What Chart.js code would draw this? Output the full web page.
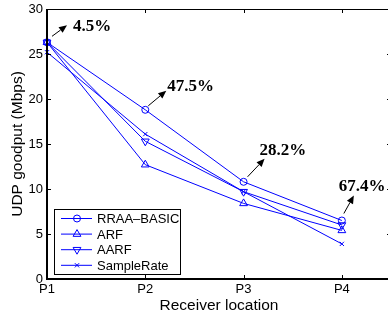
<!DOCTYPE html>
<html>
<head>
<meta charset="utf-8">
<script src="https://cdn.jsdelivr.net/npm/chart.js@4.4.0/dist/chart.umd.min.js"></script>
<style>
  html, body { margin: 0; padding: 0; background: #fff; overflow: hidden; }
  #wrap { width: 388px; height: 320px; overflow: hidden; }
</style>
</head>
<body>
<div id="wrap"><canvas id="goodputChart" width="393" height="320"></canvas></div>
<script>
// receiver positions and measured goodput (Mbps)
const locations = ['P1', 'P2', 'P3', 'P4'];
const rraaBasic = [26.3, 18.8, 10.8, 6.5];
const arf = [26.3, 12.7, 8.4, 5.4];
const aarf = [26.3, 15.3, 9.7, 6.0];
const sampleRate = [25.2, 16.1, 9.7, 3.9];
const gains = ['4.5%', '47.5%', '28.2%', '67.4%'];
const yTicks = [0, 5, 10, 15, 20, 25, 30];

// arrow tail, arrow tip and text anchor, relative to the RRAA point
const gainOffsets = [
  { tail: [5, -6], tip: [20, -17], text: [26, -16] },
  { tail: [3, -4], tip: [21, -19], text: [22, -23] },
  { tail: [4, -5], tip: [21, -23], text: [16, -31] },
  { tail: [2, -7], tip: [12, -25], text: [-3, -34] }
];

const SANS = '"Liberation Sans", Arial, sans-serif';
const BLUE = '#0000ff';

const toPoints = arr => arr.map((v, i) => ({ x: i + 1, y: v }));

function series(label, values, style, radius, rotation) {
  return {
    label,
    data: toPoints(values),
    borderColor: BLUE,
    backgroundColor: 'rgba(0,0,0,0)',
    borderWidth: 1,
    pointStyle: style,
    pointRadius: radius,
    pointRotation: rotation || 0,
    pointBorderColor: BLUE,
    pointBackgroundColor: 'rgba(0,0,0,0)',
    pointBorderWidth: 1,
    tension: 0,
    clip: false
  };
}

// matlab-style box with inward ticks (right edge falls outside the window)
const boxPlugin = {
  id: 'box',
  afterDraw(chart) {
    const { ctx, chartArea: a, scales } = chart;
    ctx.save();
    ctx.strokeStyle = '#000';
    ctx.lineWidth = 1;
    ctx.beginPath();
    yTicks.forEach(v => {
      const y = Math.round(scales.y.getPixelForValue(v)) + 0.5;
      ctx.moveTo(a.left, y); ctx.lineTo(a.left + 4, y);
      ctx.moveTo(a.right, y); ctx.lineTo(a.right - 4, y);
    });
    locations.forEach((_, i) => {
      const x = Math.round(scales.x.getPixelForValue(i + 1)) + 0.5;
      ctx.moveTo(x, a.bottom); ctx.lineTo(x, a.bottom - 4);
      ctx.moveTo(x, a.top); ctx.lineTo(x, a.top + 4);
    });
    ctx.stroke();
    ctx.beginPath();
    ctx.moveTo(a.left, a.top + 0.5); ctx.lineTo(a.right, a.top + 0.5);
    ctx.stroke();
    ctx.lineWidth = 2;
    ctx.beginPath();
    ctx.moveTo(a.left, a.top); ctx.lineTo(a.left, a.bottom);
    ctx.lineTo(a.right, a.bottom);
    ctx.stroke();
    ctx.restore();
  }
};

// legend box in the lower left corner
const legendPlugin = {
  id: 'boxLegend',
  afterDatasetsDraw(chart) {
    const ctx = chart.ctx;
    const a = chart.chartArea;
    const x0 = a.left + 7, y0 = a.bottom - 70, w = 126, h = 65;
    ctx.save();
    ctx.fillStyle = '#fff';
    ctx.fillRect(x0, y0, w, h);
    ctx.strokeStyle = '#000';
    ctx.lineWidth = 1;
    ctx.strokeRect(x0 + 0.5, y0 + 0.5, w, h);
    ctx.font = '13px ' + SANS;
    ctx.textBaseline = 'middle';
    chart.data.datasets.forEach((ds, i) => {
      const y = y0 + 9.5 + i * 15.6;
      ctx.strokeStyle = BLUE;
      ctx.fillStyle = 'rgba(0,0,0,0)';
      ctx.lineWidth = 1;
      ctx.beginPath();
      ctx.moveTo(x0 + 7, y); ctx.lineTo(x0 + 38, y);
      ctx.stroke();
      Chart.helpers.drawPoint(ctx, {
        pointStyle: ds.pointStyle, radius: ds.pointRadius,
        rotation: ds.pointRotation, borderWidth: 1
      }, x0 + 23, y);
      ctx.fillStyle = '#000';
      ctx.fillText(ds.label, x0 + 43, y + 1);
    });
    ctx.restore();
  }
};

// improvement arrows with bold percentages
const gainPlugin = {
  id: 'gains',
  afterDraw(chart) {
    const ctx = chart.ctx;
    const pts = chart.getDatasetMeta(0).data;
    ctx.save();
    ctx.fillStyle = '#000';
    ctx.strokeStyle = '#000';
    ctx.lineWidth = 1;
    ctx.font = 'bold 17px "Liberation Serif", "Times New Roman", serif';
    ctx.textBaseline = 'middle';
    gains.forEach((g, i) => {
      const p = pts[i], o = gainOffsets[i];
      const tx = p.x + o.tail[0], ty = p.y + o.tail[1];
      const hx = p.x + o.tip[0], hy = p.y + o.tip[1];
      const ang = Math.atan2(hy - ty, hx - tx);
      const len = 8, half = 3.5;
      const bx = hx - len * Math.cos(ang), by = hy - len * Math.sin(ang);
      ctx.beginPath();
      ctx.moveTo(tx, ty); ctx.lineTo(bx, by);
      ctx.stroke();
      ctx.beginPath();
      ctx.moveTo(hx, hy);
      ctx.lineTo(bx + half * Math.sin(ang), by - half * Math.cos(ang));
      ctx.lineTo(bx - half * Math.sin(ang), by + half * Math.cos(ang));
      ctx.closePath();
      ctx.fill();
      ctx.fillText(g, p.x + o.text[0], p.y + o.text[1]);
    });
    ctx.restore();
  }
};

const ctx = document.getElementById('goodputChart').getContext('2d');
new Chart(ctx, {
  type: 'line',
  data: {
    datasets: [
      series('RRAA–BASIC', rraaBasic, 'circle', 3.5),
      series('ARF', arf, 'triangle', 4.5),
      series('AARF', aarf, 'triangle', 4.5, 180),
      series('SampleRate', sampleRate, 'crossRot', 3)
    ]
  },
  options: {
    responsive: false,
    animation: false,
    devicePixelRatio: 1,
    layout: { autoPadding: false, padding: { top: 9, right: 2, left: 0, bottom: 0 } },
    plugins: { legend: { display: false }, tooltip: { enabled: false } },
    scales: {
      x: {
        type: 'linear',
        min: 1,
        max: 4.5,
        afterFit: s => { s.height = 41; s.paddingLeft = 0; s.paddingRight = 0; },
        afterBuildTicks: s => { s.ticks = locations.map((_, i) => ({ value: i + 1 })); },
        grid: { display: false, drawTicks: false },
        border: { display: false },
        ticks: {
          color: '#000',
          padding: 3,
          maxRotation: 0,
          autoSkip: false,
          font: { family: SANS, size: 13 },
          callback: v => locations[v - 1] || ''
        },
        title: {
          display: true,
          text: 'Receiver location',
          color: '#000',
          font: { family: SANS, size: 15.5 },
          padding: { top: 0, bottom: 5 }
        }
      },
      y: {
        min: 0,
        max: 30,
        afterFit: s => { s.width = 47; s.paddingTop = 0; s.paddingBottom = 0; },
        afterBuildTicks: s => { s.ticks = yTicks.map(v => ({ value: v })); },
        grid: { display: false, drawTicks: false },
        border: { display: false },
        ticks: {
          color: '#000',
          padding: 4,
          font: { family: SANS, size: 13 }
        },
        title: {
          display: true,
          text: 'UDP goodput (Mbps)',
          color: '#000',
          font: { family: SANS, size: 15.5 },
          padding: { top: 8, bottom: 0 }
        }
      }
    }
  },
  plugins: [boxPlugin, legendPlugin, gainPlugin]
});
</script>
</body>
</html>
